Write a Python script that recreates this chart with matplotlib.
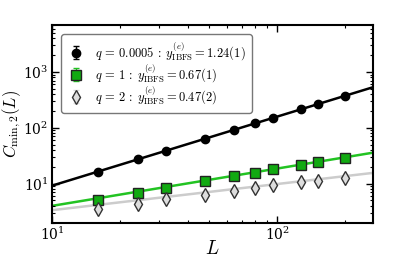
import numpy as np
import matplotlib
matplotlib.use("Agg")
import matplotlib.pyplot as plt

plt.rcParams["mathtext.fontset"] = "cm"
plt.rcParams["font.family"] = "serif"
plt.rcParams["font.serif"] = ["DejaVu Serif"]

# === Data ===
L = [16, 24, 32, 48, 64, 80, 96, 128, 152, 200]

c_q0005 = [16.4, 27.3, 38.5, 64.0, 91.4, 120.5, 152.0, 214.0, 264.0, 372.0]
c_q1 = [5.03, 6.71, 8.25, 11.0, 13.5, 15.7, 18.1, 21.9, 24.1, 28.8]
c_q2 = [3.47, 4.38, 5.24, 6.27, 7.39, 8.37, 9.33, 10.6, 11.2, 12.8]

err_q0005 = [0.2, 0.3, 0.4, 0.6, 0.9, 1.2, 1.5, 2.0, 2.5, 3.5]
err_q1 = [0.05, 0.07, 0.08, 0.1, 0.13, 0.15, 0.18, 0.2, 0.24, 0.3]
err_q2 = [0.05, 0.06, 0.07, 0.08, 0.1, 0.11, 0.12, 0.14, 0.15, 0.17]

# power-law fits: amplitude, exponent
fit_q0005 = (0.527, 1.24)
fit_q1 = (0.851, 0.67)
fit_q2 = (1.128, 0.47)

labels = [
    r"$q\,=\,0.0005\,:\;y^{(e)}_{\rm IBFS}=1.24(1)$",
    r"$q\,=\,1\,:\;y^{(e)}_{\rm IBFS}=0.67(1)$",
    r"$q\,=\,2\,:\;y^{(e)}_{\rm IBFS}=0.47(2)$",
]

# === Plotting ===
fig = plt.figure(figsize=(4.15, 2.57), dpi=100)
ax = fig.add_axes([0.125, 0.134, 0.774, 0.769])

xfit = np.array([10, 270])
for (a, y), col in [(fit_q0005, "black"), (fit_q1, "#22c322"), (fit_q2, "#cccccc")]:
    ax.plot(xfit, a * xfit ** y, color=col, lw=1.8, zorder=1)

ax.errorbar(L, c_q0005, yerr=err_q0005, fmt="o", color="black", ms=6,
            mec="black", mfc="black", capsize=2.5, elinewidth=1, label=labels[0], zorder=3)
ax.errorbar(L, c_q1, yerr=err_q1, fmt="s", color="#22c322", ms=6.5,
            mec="#222222", mfc="#11aa11", ecolor="#22c322", capsize=2.5, elinewidth=1,
            label=labels[1], zorder=3)
ax.errorbar(L, c_q2, yerr=err_q2, fmt="d", ms=7, mec="#333333", mfc="#dddddd",
            ecolor="#dddddd", capsize=2.5, elinewidth=1, label=labels[2], zorder=3)

ax.set_xscale("log")
ax.set_yscale("log")
ax.set_xlim(10, 266)
ax.set_ylim(2, 7000)

ax.set_xlabel(r"$L$", fontsize=14)
ax.set_ylabel(r"$C_{\min,2}(L)$", fontsize=12)
ax.xaxis.set_label_coords(0.5, -0.088)
ax.yaxis.set_label_coords(-0.09, 0.5)
ax.tick_params(which="both", direction="in", top=True, right=True, labelsize=10)
ax.tick_params(which="major", length=5, width=1, pad=2.5)
ax.tick_params(which="minor", length=2.5, width=0.8)
for s in ax.spines.values():
    s.set_linewidth(1.5)

leg = ax.legend(loc="upper left", fontsize=9, frameon=True, fancybox=True,
                borderaxespad=0.75, handlelength=1.3, labelspacing=0.0,
                borderpad=0.5, handletextpad=0.9)
leg.get_frame().set_edgecolor("#555555")

fig.savefig("out.png", dpi=100)
